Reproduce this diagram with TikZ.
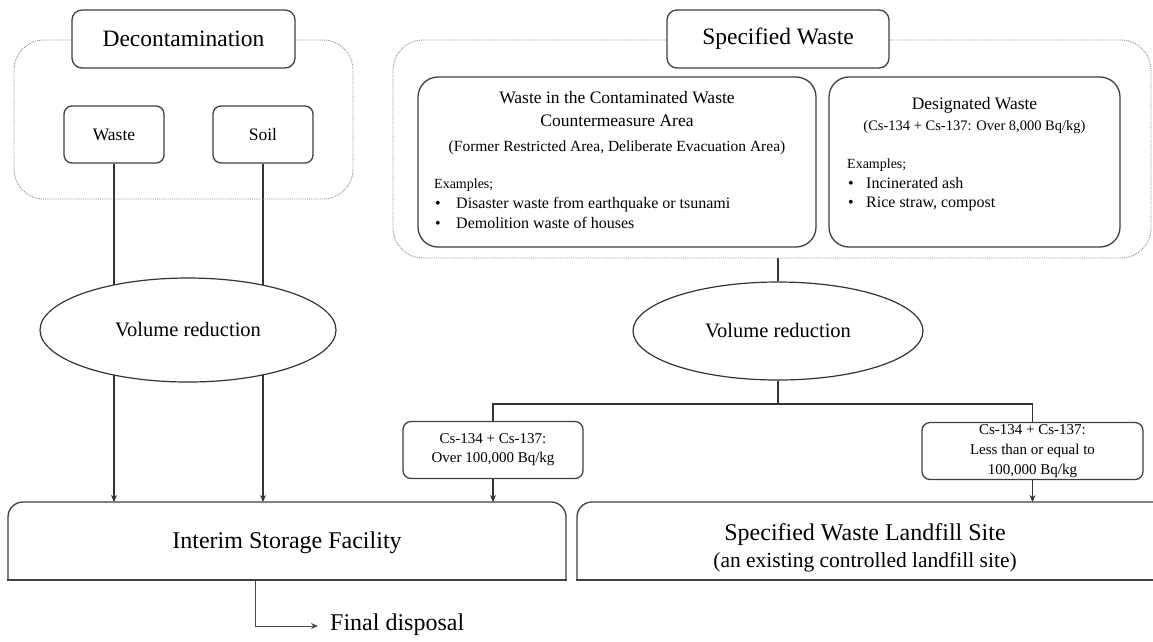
\documentclass[tikz,border=0pt]{standalone}
\usepackage{fontspec}
\setmainfont{Liberation Serif}
\usetikzlibrary{shapes.geometric,arrows.meta}
\pgfdeclarelayer{bg}
\pgfdeclarelayer{paper}
\pgfsetlayers{paper,bg,main}
\newcommand\myfs[2]{\fontsize{#1}{#2}\selectfont}
\begin{document}
\begin{tikzpicture}[x=1pt,y=-1pt,
  line/.style={draw=black!80, line width=1.1pt},
  arr/.style={line, -{Stealth[length=7pt,width=6pt]}},
  box/.style={draw=black!75, line width=1.3pt, rounded corners=#1, fill=white, inner sep=0pt, align=center},
  dotbox/.style={draw=black!45, line width=0.9pt, densely dotted, rounded corners=30, inner sep=0pt},
  ell/.style={ellipse, draw=black!80, line width=1.2pt, fill=white, inner sep=0pt, font=\myfs{20.5}{24}},
  ttl/.style={box=10, minimum width=223, minimum height=58, font=\myfs{23.5}{28}},
  txt/.style={inner sep=0pt, anchor=base},
  txl/.style={inner sep=0pt, anchor=base west, font=\myfs{16}{19}},
  exl/.style={inner sep=0pt, anchor=base west, font=\myfs{14}{17}},
]
\useasboundingbox (0,0) rectangle (1153,641);
\begin{pgfonlayer}{paper}
\fill[white] (0,0) rectangle (1153,641);
\end{pgfonlayer}

% Decontamination group
\node[dotbox, minimum width=339, minimum height=159] (decoOuter) at (183.5,119.5) {};
\node[ttl] (decoTitle) at (183.5,39) {Decontamination};
\node[box=8, minimum width=100, minimum height=57, font=\myfs{17.5}{21}] (waste) at (114,134.5) {Waste};
\node[box=8, minimum width=100, minimum height=57, font=\myfs{17.5}{21}] (soil) at (263,134.5) {Soil};
\node[ell, minimum width=296, minimum height=104] (vr1) at (188,330) {Volume reduction};

% Specified waste group
\node[dotbox, minimum width=758, minimum height=218] (specOuter) at (772,149) {};
\node[ttl, minimum width=222] (specTitle) at (778,39) {Specified Waste};
\node[box=20, minimum width=398, minimum height=170] (inner1) at (617,162) {};
\node[box=20, minimum width=291, minimum height=170] (inner2) at (974.5,162) {};

\node[txt, font=\myfs{17.5}{21}] (i1a) at (617,103) {Waste in the Contaminated Waste};
\node[txt, font=\myfs{17.5}{21}] (i1b) at (617,126) {Countermeasure Area};
\node[txt, font=\myfs{15.5}{18}] (i1c) at (617,151) {(Former Restricted Area, Deliberate Evacuation Area)};
\node[exl] (i1d) at (434,188) {Examples;};
\node[txl] (i1e) at (435,208) {\makebox[21pt][l]{•}Disaster waste from earthquake or tsunami};
\node[txl] (i1f) at (435,228) {\makebox[21pt][l]{•}Demolition waste of houses};

\node[txt, font=\myfs{17.5}{21}] (i2a) at (974.5,109) {Designated Waste};
\node[txt, font=\myfs{14.5}{17}] (i2b) at (974.5,130) {(Cs-134 + Cs-137: Over 8,000 Bq/kg)};
\node[exl] (i2d) at (847,168) {Examples;};
\node[txl] (i2e) at (848,188) {\makebox[18pt][l]{•}Incinerated ash};
\node[txl] (i2f) at (848,207) {\makebox[18pt][l]{•}Rice straw, compost};

\node[ell, minimum width=290, minimum height=98] (vr2) at (778,331) {Volume reduction};
\coordinate (br) at (778,404);

\node[box=8, minimum width=180, minimum height=57, font=\myfs{15}{19}] (csL) at (493,450) {Cs-134 + Cs-137:\\Over 100,000 Bq/kg};
\node[box=8, minimum width=221, minimum height=57, font=\myfs{15}{20}] (csR) at (1032.5,451) {Cs-134 + Cs-137:\\Less than or equal to\\100,000 Bq/kg};

% Bottom boxes
\draw[draw=black!75, line width=1.3pt, rounded corners=15] (8,580) -- (8,502) -- (566,502) -- (566,580);
\draw[draw=black!75, line width=1.3pt, line cap=rect] (8,580) -- (566,580);
\coordinate (interimTop) at (287,502);
\coordinate (interimBot) at (255,580);
\node[inner sep=0pt, font=\myfs{24}{29}] (interim) at (287,543) {Interim Storage Facility};

\draw[draw=black!75, line width=1.3pt, rounded corners=15] (577,580) -- (577,502) -- (1175,502);
\draw[draw=black!75, line width=1.3pt, line cap=rect] (577,580) -- (1153,580);
\coordinate (landTop) at (865,502);
\node[txt, font=\myfs{24}{29}] (land1) at (865,540) {Specified Waste Landfill Site};
\node[txt, font=\myfs{21.5}{26}] (land2) at (865,567) {(an existing controlled landfill site)};

\node[inner sep=0pt, anchor=west, font=\myfs{24}{29}] (fd) at (330,625) {Final disposal};
\coordinate (fdTip) at (318,626);

\begin{pgfonlayer}{bg}
  \draw[arr] (waste.south) -- (waste.south |- interimTop);
  \draw[arr] (soil.south) -- (soil.south |- interimTop);
  \draw[line] (vr2.north |- specOuter.south) -- (vr2.north);
  \draw[line] (vr2.south) -- (br);
  \draw[line] (csL.north) |- (br) -| (csR.north);
  \draw[arr] (csL.south) -- (csL.south |- interimTop);
  \draw[arr] (csR.south) -- (csR.south |- landTop);
  \draw[draw=black!70, line width=0.9pt, -{Stealth[length=7pt,width=6pt]}] (interimBot) |- (fdTip);
\end{pgfonlayer}
\end{tikzpicture}
\end{document}
